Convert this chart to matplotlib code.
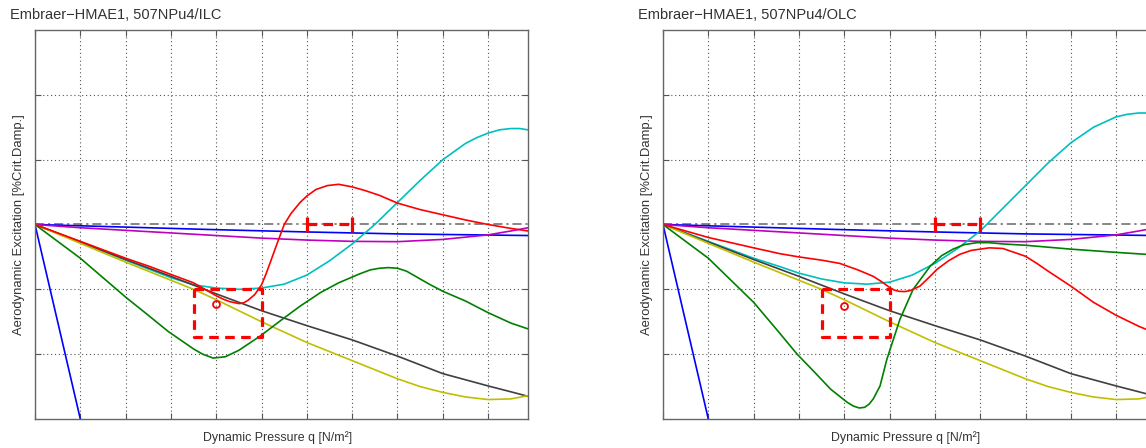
import matplotlib.pyplot as plt

plt.rcParams['font.family'] = ['Liberation Sans', 'DejaVu Sans']

# branches that look the same in both control cases
q_steep = [0.0, 1.0]
amp_steep = [0.0, -3.0]

q_flat = [0.0, 2.0, 4.0, 6.0, 8.0, 10.88]
amp_flat = [0.0, -0.04, -0.08, -0.115, -0.145, -0.17]

q_mag = [0, 1, 2, 3, 4, 5, 6, 7, 8, 9, 10, 10.5, 10.88]
amp_mag = [0, -0.05, -0.09, -0.13, -0.17, -0.21, -0.24, -0.26, -0.265, -0.23, -0.16, -0.1, -0.05]

q_blk = [0, 1, 2, 3, 4, 5, 6, 7, 8, 9, 10, 10.5, 10.88]
amp_blk = [0, -0.27, -0.54, -0.8, -1.07, -1.33, -1.56, -1.78, -2.03, -2.3, -2.49, -2.58, -2.65]

q_yel = [0, 1, 2, 3, 3.5, 4, 5, 6, 7, 7.5, 8, 8.5, 9, 9.5, 10, 10.5, 10.88]
amp_yel = [0, -0.29, -0.58, -0.86, -1.0, -1.16, -1.5, -1.82, -2.1, -2.24, -2.38, -2.5, -2.59, -2.66, -2.7, -2.69, -2.64]

# ILC
q_cyan_ilc = [0, 1, 2, 3, 3.5, 4, 4.5, 5, 5.5, 6, 6.5, 7, 7.5, 8, 8.5, 9, 9.5, 9.75, 10, 10.25,
              10.5, 10.7, 10.88]
amp_cyan_ilc = [0, -0.27, -0.55, -0.82, -0.93, -0.98, -1.0, -0.98, -0.92, -0.78, -0.56, -0.3, 0.0,
                0.34, 0.68, 1.0, 1.25, 1.34, 1.41, 1.46, 1.48, 1.48, 1.46]

q_red_ilc = [0, 1, 2, 2.5, 3, 3.5, 4, 4.15, 4.3, 4.5, 4.6, 4.7, 4.85, 5.0, 5.1, 5.2, 5.35, 5.5,
             5.65, 5.85, 6.0, 6.2, 6.45, 6.7, 7.0, 7.3, 7.6, 8, 8.5, 9, 9.5, 10, 10.5, 10.88]
amp_red_ilc = [0, -0.26, -0.52, -0.64, -0.77, -0.9, -1.1, -1.15, -1.19, -1.22, -1.21, -1.17, -1.08,
               -0.93, -0.76, -0.57, -0.28, 0.0, 0.17, 0.34, 0.44, 0.54, 0.6, 0.62, 0.58, 0.52, 0.45,
               0.33, 0.23, 0.15, 0.07, 0.0, -0.06, -0.1]

q_grn_ilc = [0, 1, 2, 2.5, 2.94, 3.5, 3.7, 3.93, 4.2, 4.5, 4.97, 5.5, 5.85, 6.3, 6.7, 7.17, 7.4,
             7.6, 7.8, 8.0, 8.2, 8.35, 8.7, 9, 9.5, 10, 10.5, 10.88]
amp_grn_ilc = [0, -0.52, -1.12, -1.4, -1.65, -1.92, -2.0, -2.06, -2.04, -1.94, -1.72, -1.44, -1.26,
               -1.05, -0.9, -0.76, -0.7, -0.675, -0.665, -0.675, -0.72, -0.78, -0.92, -1.03,
               -1.18, -1.36, -1.52, -1.61]

# OLC
q_cyan_olc = [0, 1, 2, 2.58, 3, 3.5, 4, 4.5, 5, 5.5, 6, 6.5, 7, 7.5, 8, 8.5, 9, 9.5, 10, 10.25,
              10.5, 10.7, 10.88]
amp_cyan_olc = [0, -0.26, -0.52, -0.65, -0.75, -0.84, -0.9, -0.92, -0.89, -0.78, -0.6, -0.37, -0.1,
                0.25, 0.6, 0.95, 1.26, 1.5, 1.66, 1.7, 1.72, 1.72, 1.71]

q_red_olc = [0, 1, 2, 2.58, 3, 3.5, 3.9, 4.3, 4.64, 4.82, 5.0, 5.1, 5.2, 5.33, 5.45, 5.55, 5.67,
             5.85, 6.05, 6.3, 6.55, 6.8, 7.0, 7.2, 7.5, 8, 8.25, 8.5, 9, 9.5, 10, 10.5, 10.88]
amp_red_olc = [0, -0.2, -0.36, -0.45, -0.5, -0.55, -0.6, -0.7, -0.8, -0.88, -0.97, -1.01, -1.03,
               -1.035, -1.02, -0.99, -0.95, -0.83, -0.69, -0.56, -0.46, -0.4, -0.38, -0.36, -0.37,
               -0.49, -0.6, -0.72, -0.95, -1.2, -1.4, -1.57, -1.68]

q_grn_olc = [0, 1, 2, 2.58, 2.96, 3.32, 3.7, 4.06, 4.2, 4.33, 4.45, 4.55, 4.64, 4.79, 4.94, 5.23,
             5.52, 5.9, 6.15, 6.4, 6.65, 6.93, 7.2, 7.5, 8, 9, 10, 10.88]
amp_grn_olc = [0, -0.52, -1.2, -1.68, -2.0, -2.26, -2.54, -2.74, -2.8, -2.83, -2.82, -2.77, -2.69,
               -2.49, -2.08, -1.46, -1.0, -0.64, -0.48, -0.38, -0.31, -0.28, -0.28, -0.3, -0.32,
               -0.38, -0.43, -0.47]

# design requirement: target box, design point, and flutter-free band
box_q = [3.5, 5.0]
box_amp = [-1.74, -1.0]
point_q = 4.0
point_amp_ilc = -1.22
point_amp_olc = -1.25
band_q = [6.0, 7.0]
band_cap = 0.11

titles = ["Embraer\u2212HMAE1, 507NPu4/ILC", "Embraer\u2212HMAE1, 507NPu4/OLC"]
ylabel = "Aerodynamic Excitation [%Crit.Damp.]"
xlabel = "Dynamic Pressure q [N/m\u00b2]"

W, H = 1146, 448
fig = plt.figure(figsize=(W / 100, H / 100), dpi=100)


def draw_panel(ax, cyan, red, green, point_amp):
    ax.set_xlim(0, 10.88)
    ax.set_ylim(-3, 3)
    ax.set_xticks(range(0, 11))
    ax.set_yticks([-2, -1, 1, 2])
    ax.grid(True, color='#555555', linestyle=(0, (1, 2.5)), linewidth=0.8)
    ax.tick_params(direction='in', length=4, top=True, right=True, color='#555555',
                   labelbottom=False, labelleft=False)
    for s in ax.spines.values():
        s.set_color('#666666')
        s.set_linewidth(1.0)
    ax.axhline(0, color='#666666', lw=1.1, linestyle=(0, (6, 2.5, 1.5, 2.5)), zorder=1)

    lw = 1.2
    ax.plot(q_steep, amp_steep, color='blue', lw=lw)
    ax.plot(q_flat, amp_flat, color='blue', lw=lw)
    ax.plot(q_mag, amp_mag, color='m', lw=lw)
    ax.plot(*cyan, color='c', lw=lw)
    ax.plot(q_blk, amp_blk, color='#404040', lw=lw)
    ax.plot(q_yel, amp_yel, color='y', lw=lw)
    ax.plot(*green, color='g', lw=lw)
    ax.plot(*red, color='red', lw=lw)

    # target box
    bx = [box_q[0], box_q[1], box_q[1], box_q[0], box_q[0]]
    by = [box_amp[1], box_amp[1], box_amp[0], box_amp[0], box_amp[1]]
    ax.plot(bx, by, color='red', lw=2.3, linestyle=(0, (3, 2)), zorder=5)
    ax.plot([point_q], [point_amp], 'o', mfc='none', mec='red', mew=1.3, ms=5, zorder=5)
    ax.plot(band_q, [0, 0], color='red', lw=2.3, linestyle=(0, (3, 2)), zorder=5)
    ax.vlines(band_q, -band_cap, band_cap, color='red', lw=2.3, zorder=5)


left_px = [35, 663]
ax_w, ax_b, ax_h = 493, 29, 389
panels = [
    ((q_cyan_ilc, amp_cyan_ilc), (q_red_ilc, amp_red_ilc), (q_grn_ilc, amp_grn_ilc), point_amp_ilc),
    ((q_cyan_olc, amp_cyan_olc), (q_red_olc, amp_red_olc), (q_grn_olc, amp_grn_olc), point_amp_olc),
]

for i, (cyan, red, green, pa) in enumerate(panels):
    x0 = left_px[i]
    ax = fig.add_axes([x0 / W, ax_b / H, ax_w / W, ax_h / H])
    draw_panel(ax, cyan, red, green, pa)
    fig.text((x0 - 25) / W, 1 - 15 / H, titles[i], ha='left', va='center', fontsize=10.5, color='#333333')
    fig.text((x0 - 16) / W, 1 - 225 / H, ylabel, rotation=90, ha='center', va='center',
             fontsize=9.4, color='#333333')
    fig.text((x0 + ax_w / 2 - 4) / W, 1 - 438 / H, xlabel, ha='center', va='center',
             fontsize=8.9, color='#333333')

fig.savefig('out.png', dpi=100, facecolor='white')
